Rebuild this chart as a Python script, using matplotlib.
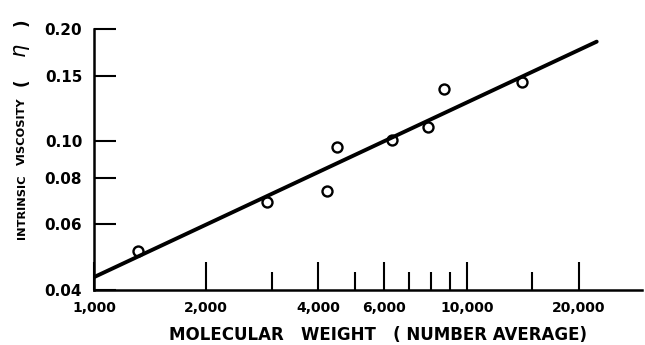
import matplotlib
matplotlib.use("Agg")
import matplotlib.pyplot as plt
from matplotlib import font_manager
from matplotlib.ticker import FixedLocator, FixedFormatter, NullFormatter

# Data
mol_weight = [1310, 2910, 4210, 4480, 6300, 7860, 8670, 14050]
intrinsic_visc = [0.0509, 0.0689, 0.0737, 0.0967, 0.101, 0.1094, 0.1383, 0.1444]

fit_mw = [1000, 22300]
fit_visc = [0.0433, 0.185]

x_major = [1000, 2000, 4000, 6000, 10000, 20000]
x_major_labels = ["1,000", "2,000", "4,000", "6,000", "10,000", "20,000"]
x_minor = [3000, 5000, 7000, 8000, 9000, 15000]
y_ticks = [0.04, 0.06, 0.08, 0.10, 0.15, 0.20]
y_tick_labels = ["0.04", "0.06", "0.08", "0.10", "0.15", "0.20"]

installed = {f.name for f in font_manager.fontManager.ttflist}
if "Liberation Sans Narrow" in installed:
    narrow_family, narrow_size = "Liberation Sans Narrow", 11.5
else:
    narrow_family, narrow_size = "DejaVu Sans", 8.2

W, H = 645, 345
fig = plt.figure(figsize=(W / 100, H / 100), dpi=100)
L, R, T, B = 94, 642, 29, 290
ax = fig.add_axes([L / W, 1 - B / H, (R - L) / W, (B - T) / H])

ax.set_xscale("log")
ax.set_yscale("log")
ax.set_xlim(1000, 29500)
ax.set_ylim(0.04, 0.20)

ax.plot(mol_weight, intrinsic_visc, linestyle="none", marker="o", ms=7.2,
        mfc="white", mec="black", mew=1.7, zorder=2)
ax.plot(fit_mw, fit_visc, color="black", lw=2.8, solid_capstyle="round", zorder=3)

for s in ["top", "right"]:
    ax.spines[s].set_visible(False)
for s in ["left", "bottom"]:
    ax.spines[s].set_linewidth(1.8)

ax.xaxis.set_major_locator(FixedLocator(x_major))
ax.xaxis.set_major_formatter(FixedFormatter(x_major_labels))
ax.xaxis.set_minor_locator(FixedLocator(x_minor))
ax.xaxis.set_minor_formatter(NullFormatter())
ax.yaxis.set_major_locator(FixedLocator(y_ticks))
ax.yaxis.set_major_formatter(FixedFormatter(y_tick_labels))
ax.yaxis.set_minor_locator(FixedLocator([]))

ax.tick_params(axis="x", which="major", direction="in", length=20, width=1.5,
               pad=8, labelsize=10)
ax.tick_params(axis="x", which="minor", direction="in", length=13, width=1.5)
ax.tick_params(axis="y", which="major", direction="in", length=16, width=1.5,
               pad=8.5, labelsize=11)
for lab in ax.get_xticklabels() + ax.get_yticklabels():
    lab.set_fontweight("bold")
    lab.set_family("DejaVu Sans")

fig.text(378 / W, 1 - 335 / H, "MOLECULAR   WEIGHT   ( NUMBER AVERAGE)",
         ha="center", va="center", fontsize=12, fontweight="bold",
         family="DejaVu Sans")
fig.text(22 / W, 1 - 207 / H, "INTRINSIC",
         ha="center", va="center", rotation=90, fontsize=narrow_size,
         fontweight="bold", family=narrow_family)
fig.text(22 / W, 1 - 131 / H, "VISCOSITY",
         ha="center", va="center", rotation=90, fontsize=narrow_size,
         fontweight="bold", family=narrow_family)
ylab_parts = [("(", 82, 12), ("$\\eta$", 51, 15), (")", 22, 12)]
for txt, ypx, fs in ylab_parts:
    fig.text(22 / W, 1 - ypx / H, txt, ha="center", va="center", rotation=90,
             fontsize=fs, fontweight="bold", family="DejaVu Sans")

fig.savefig("out.png", dpi=100, facecolor="white")
